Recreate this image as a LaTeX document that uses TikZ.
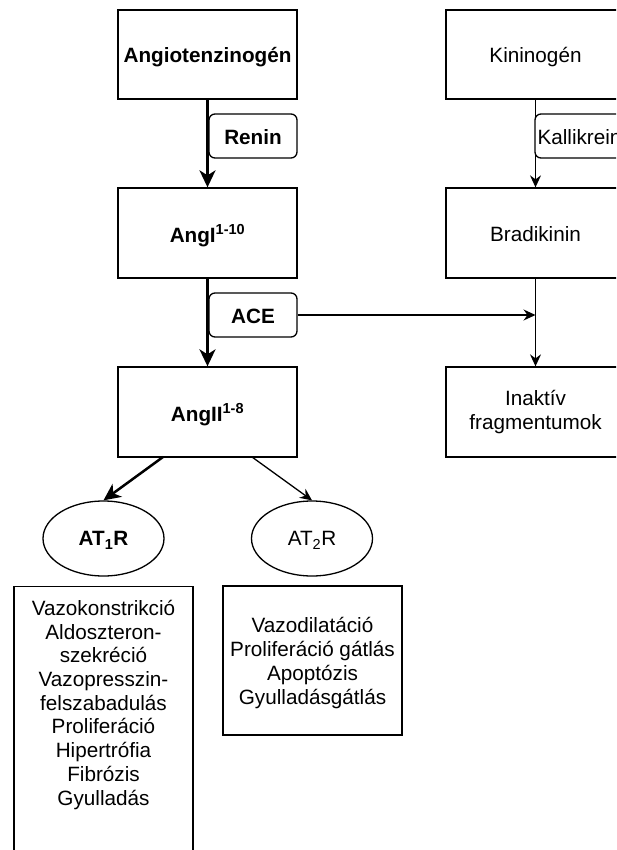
\documentclass[tikz,border=0pt]{standalone}
\usepackage{fontspec}
\setmainfont{Liberation Sans}
\usetikzlibrary{arrows.meta,shapes.geometric}
\begin{document}
\begin{tikzpicture}[x=1pt,y=-1pt,
  txt/.style={font=\fontsize{20.7pt}{23.7pt}\selectfont},
  one/.style={text height=17pt,text depth=0pt},
  box/.style={draw,line width=1.3pt,minimum width=179pt,minimum height=89pt,inner sep=0pt,align=center,txt},
  bbox/.style={box,one,font=\fontsize{20.7pt}{23.7pt}\selectfont\bfseries},
  enz/.style={draw,fill=white,line width=1.3pt,rounded corners=6pt,minimum width=88pt,minimum height=44pt,inner sep=0pt,txt,one},
  benz/.style={enz,font=\fontsize{20.7pt}{23.7pt}\selectfont\bfseries},
  rec/.style={draw,ellipse,line width=1.3pt,minimum width=121pt,minimum height=75pt,inner sep=0pt,txt,text height=14.8pt,text depth=0pt},
  heavyarrow/.style={line width=2.5pt,-{Stealth[length=17pt,width=16pt,inset=5pt]}},
  lightarrow/.style={line width=1.3pt,-{Stealth[length=12pt,width=11pt,inset=4pt]}},
]
\useasboundingbox (0,0) rectangle (616,850);
\clip (0,0) rectangle (616,850);
\fill[white] (0,0) rectangle (616,850);

% left column
\node[bbox] (agen) at (207.5,54.5) {Angiotenzinogén};
\node[bbox,minimum height=90pt,text height=19pt] (angI) at (207.5,233) {AngI\textsuperscript{\smash{1-10}}};
\node[bbox,minimum height=90pt,text height=19pt] (angII) at (207.5,412) {AngII\textsuperscript{\smash{1-8}}};
\draw[heavyarrow] (agen) -- (angI);
\draw[heavyarrow] (angI) -- (angII);
\node[benz] (renin) at (253,136) {Renin};
\node[benz] (ace) at (253,315) {ACE};

% right column
\node[box,one] (kin) at (535.5,54.5) {Kininogén};
\node[box,one,minimum height=90pt] (brad) at (535.5,233) {Bradikinin};
\node[box,minimum height=90pt] (inakt) at (535.5,412) {Inaktív\\fragmentumok};
\draw[lightarrow] (kin) -- (brad);
\draw[lightarrow] (brad) -- (inakt);
\node[enz,minimum width=89pt] (kall) at (579.5,136) {Kallikrein};
\coordinate (acehit) at (535.5,315);
\draw[lightarrow] (ace.east) -- (acehit);

% receptors
\node[rec,font=\fontsize{20.7pt}{23.7pt}\selectfont\bfseries] (at1) at (103.5,538.5) {AT\textsubscript{1}R};
\node[rec] (at2) at (312,538.5) {AT\textsubscript{2}R};
\coordinate (s1) at (163,457);
\coordinate (s2) at (252,457);
\draw[heavyarrow] (s1) -- (at1.north);
\draw[lightarrow] (s2) -- (at2.north);

% effects
\node[draw,line width=1.3pt,minimum width=179pt,minimum height=320pt,anchor=north,inner sep=0pt] (eff1) at (103.5,586) {};
\node[txt,align=center,anchor=north,inner sep=0pt] (eff1t) at (103.5,600)
  {Vazokonstrikció\\Aldoszteron-\\szekréció\\Vazopresszin-\\felszabadulás\\Proliferáció\\Hipertrófia\\Fibrózis\\Gyulladás};
\node[draw,line width=1.3pt,minimum width=179pt,minimum height=149pt,inner sep=0pt] (eff2) at (312.5,660.5) {};
\node[txt,align=center,inner sep=0pt] (eff2t) at (312.5,663)
  {Vazodilatáció\\Proliferáció gátlás\\Apoptózis\\Gyulladásgátlás};
\end{tikzpicture}
\end{document}
